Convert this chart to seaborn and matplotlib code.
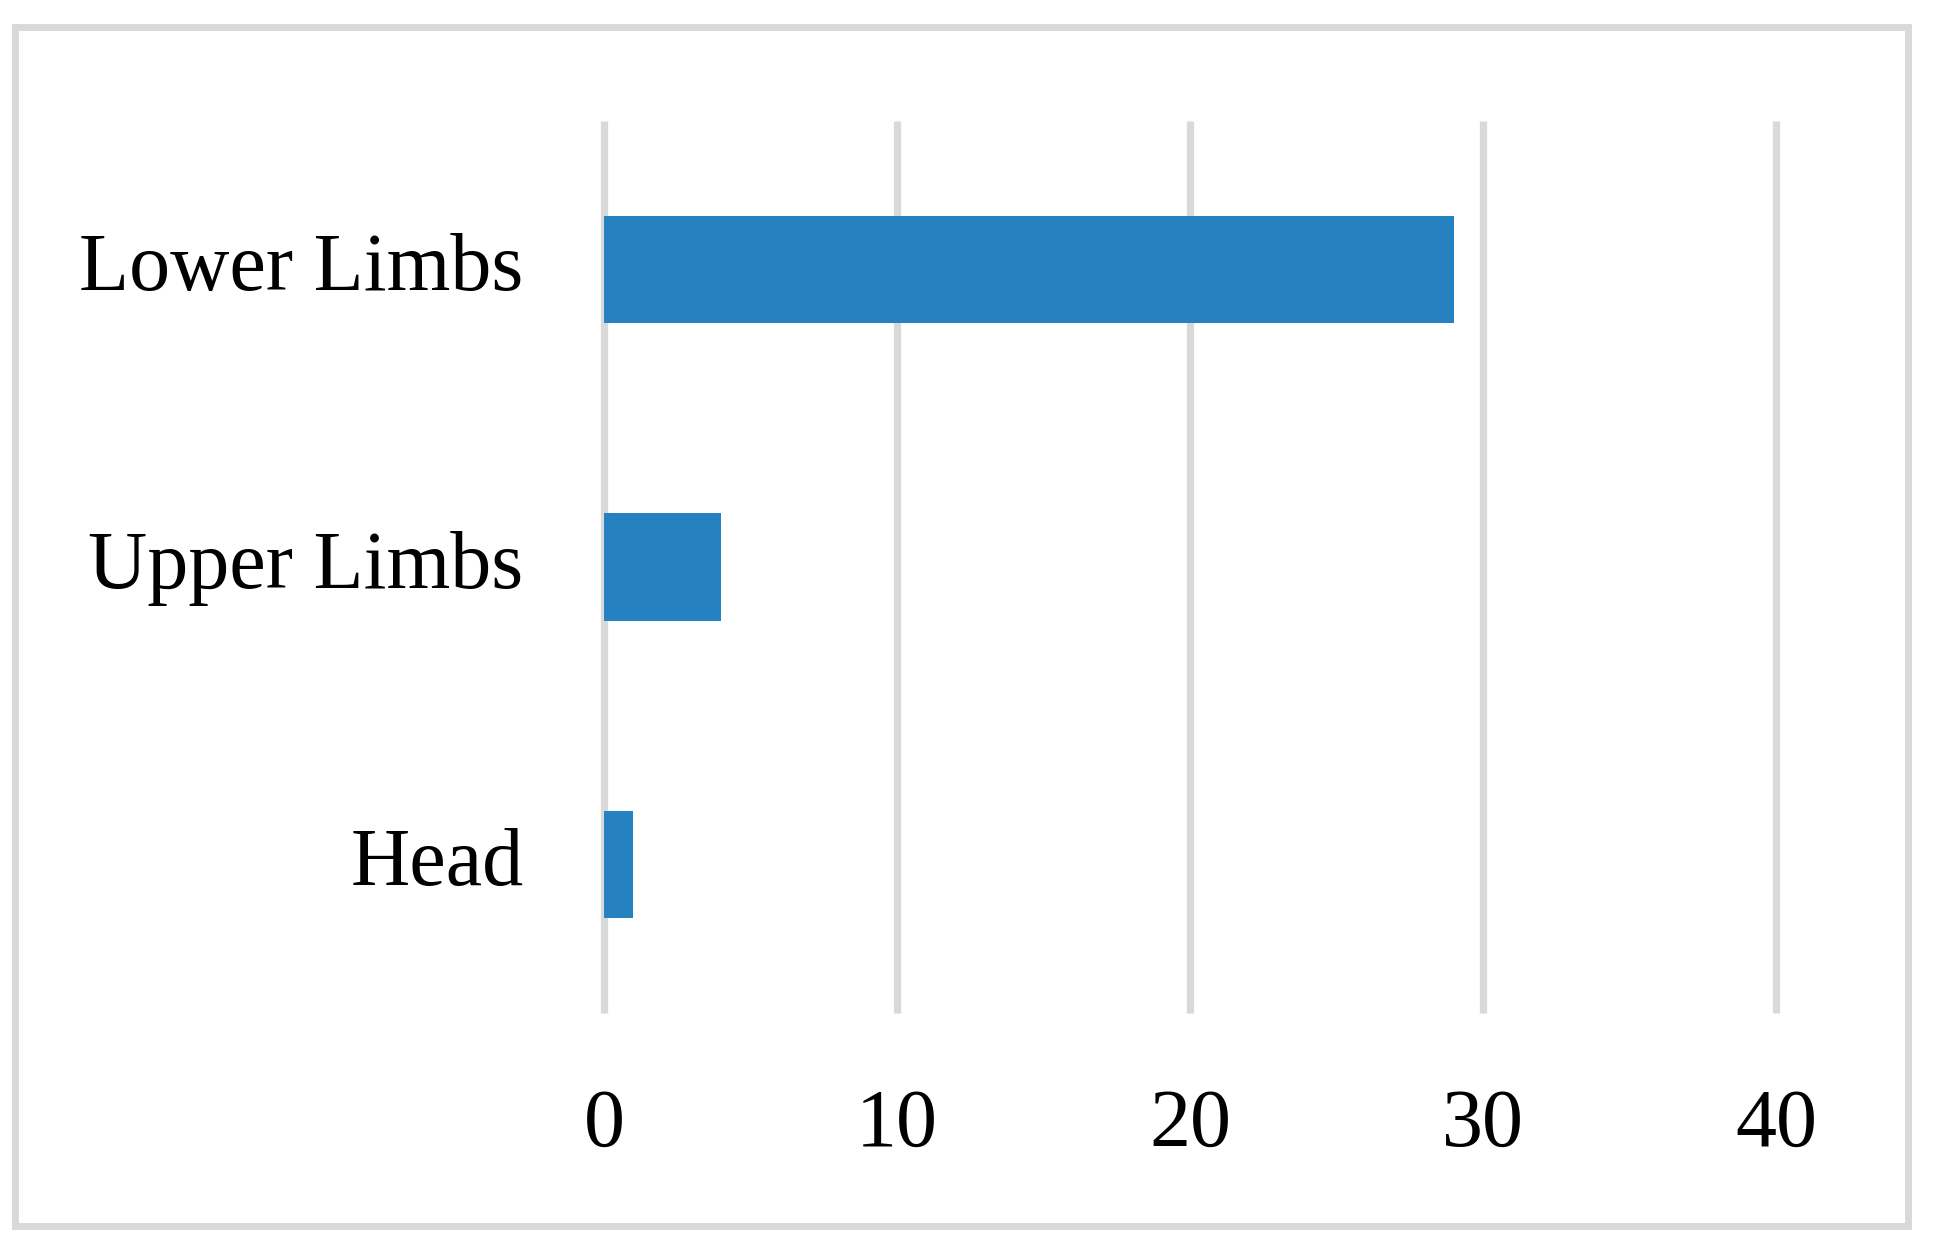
import matplotlib
matplotlib.use("Agg")
import matplotlib.pyplot as plt
import matplotlib.transforms as mtransforms
import seaborn as sns
import pandas as pd
from matplotlib.patches import Rectangle

# body regions and counts
regions = ["Lower Limbs", "Upper Limbs", "Head"]
counts = [29, 4, 1]
x_ticks = [0, 10, 20, 30, 40]

df = pd.DataFrame({"region": regions, "count": counts})

sns.set_style("white")
plt.rcParams["font.family"] = ["Liberation Serif", "DejaVu Serif"]

fig = plt.figure(figsize=(9.69, 6.3), dpi=200)
ax = fig.add_axes([604 / 1938, 1 - 1013 / 1260, (1776 - 604) / 1938, (1013 - 121) / 1260])

sns.barplot(data=df, x="count", y="region", order=regions, color="#2681C1",
            width=0.36, saturation=1, linewidth=0, ax=ax, zorder=3)

ax.set_xlim(0, 40)
ax.set_ylim(2.5, -0.5)
ax.set_xticks(x_ticks)
ax.set_xlabel("")
ax.set_ylabel("")
ax.grid(axis="x", color="#D9D9D9", linewidth=2.6, zorder=0)
ax.grid(axis="y", visible=False)
for gl in ax.get_xgridlines():
    gl.set_clip_on(False)
    gl.set_solid_capstyle("butt")
ax.set_axisbelow(True)
for s in ax.spines.values():
    s.set_visible(False)
ax.tick_params(axis="x", length=0, pad=27, labelsize=29.5, labelcolor="black")
ax.tick_params(axis="y", length=0, pad=29, labelsize=29.5, labelcolor="black")

# nudge category labels up a little
shift = mtransforms.ScaledTranslation(0, 8 / 200, fig.dpi_scale_trans)
for lbl in ax.get_yticklabels():
    lbl.set_transform(lbl.get_transform() + shift)

# outer frame
fig.patches.append(Rectangle((14.5 / 1938, 1 - 1225.5 / 1260), (1908 - 14.5) / 1938,
                             (1225.5 - 26.5) / 1260, transform=fig.transFigure,
                             fill=False, edgecolor="#D9D9D9", linewidth=2.5))

fig.savefig("out.png", dpi=200)
